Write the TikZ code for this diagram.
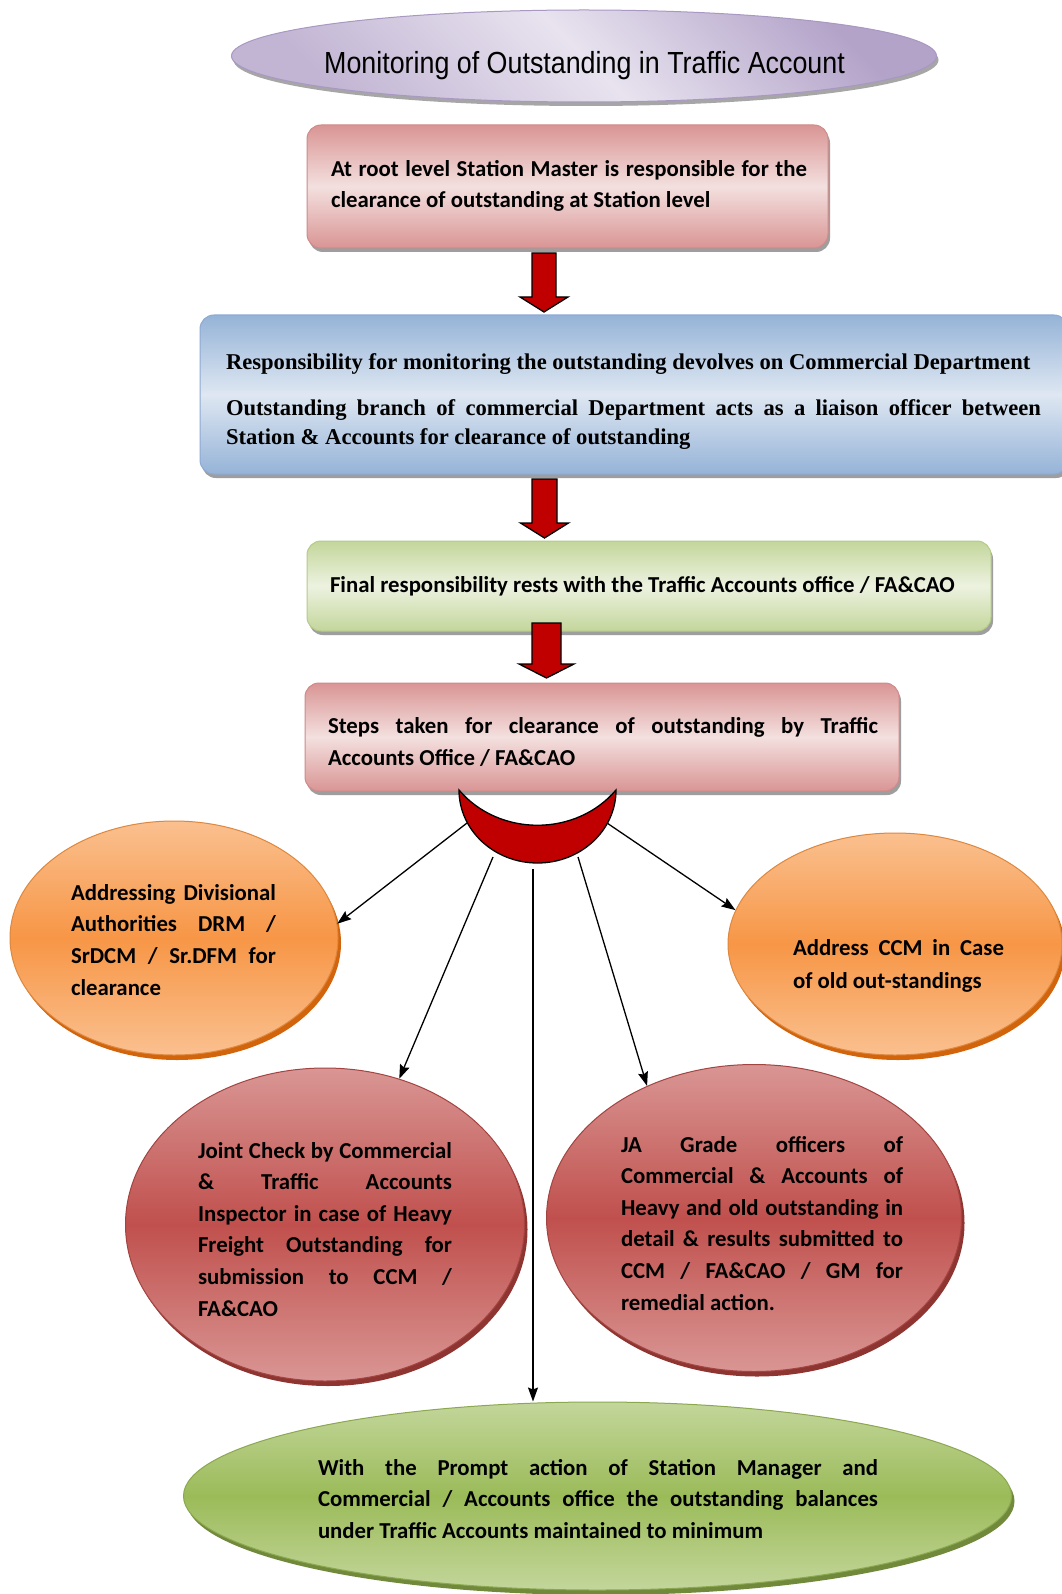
\documentclass[tikz,border=0pt]{standalone}
\usepackage{fontspec}
\setmainfont{Carlito}
\newfontfamily\titlefont[FakeStretch=0.88]{Liberation Sans}
\newfontfamily\timesfont{Liberation Serif}
\usetikzlibrary{shapes.geometric,shadows,arrows.meta}
\definecolor{arrred}{HTML}{C00000}
\definecolor{lavL}{HTML}{E8E3EF}
\definecolor{lavD}{HTML}{B3A3C9}
\definecolor{lavB}{HTML}{A898C2}
\definecolor{pinkL}{HTML}{F3E0DF}
\definecolor{pinkD}{HTML}{D99594}
\definecolor{pinkB}{HTML}{D08A89}
\definecolor{blueL}{HTML}{DEE7F2}
\definecolor{blueD}{HTML}{95B3D7}
\definecolor{blueB}{HTML}{8DAAD3}
\definecolor{grnL}{HTML}{EDF2E0}
\definecolor{grnD}{HTML}{C3D69B}
\definecolor{grnB}{HTML}{B5CB88}
\definecolor{orL}{HTML}{FAC08F}
\definecolor{orD}{HTML}{F79646}
\definecolor{orS}{HTML}{D2640C}
\definecolor{rdLc}{HTML}{D99694}
\definecolor{rdDc}{HTML}{C0504D}
\definecolor{rdS}{HTML}{8E3431}
\definecolor{gnL}{HTML}{C3D69B}
\definecolor{gnD}{HTML}{9BBB59}
\definecolor{gnS}{HTML}{71893A}
\newcommand{\jline}[1]{\makebox[\linewidth][s]{#1}\par}
\newcommand{\nline}[1]{\makebox[\linewidth][l]{#1}\par}
\newcommand{\bodyfont}[1]{\fontsize{22.8}{#1}\selectfont\bfseries}
\begin{document}
\begin{tikzpicture}[x=1pt,y=-1pt,
  boxshadow/.style={drop shadow={shadow xshift=2pt,shadow yshift=-4pt,fill=black!38,opacity=1}},
  rbox/.style={shape=rectangle,rounded corners=14pt,line width=1pt,inner sep=0pt,boxshadow,shading angle=-45},
  oval/.style={shape=ellipse,inner sep=0pt,line width=1pt},
  txt/.style={anchor=base west,inner sep=0pt,outer sep=0pt,text=black},
  conn/.style={draw=black,line width=1.3pt,-{Stealth[length=14pt,width=10pt,inset=2pt]}},
  redarr/.style={fill=arrred,draw=black,line width=1.3pt,line join=miter}]
\useasboundingbox (0,0) rectangle (1061,1594);
\fill[white] (0,0) rectangle (1061,1594);

% title
\node[oval,minimum width=705pt,minimum height=92pt,draw=lavB,
  top color=lavD,bottom color=lavD!80!white,middle color=lavL,shading angle=-45,
  drop shadow={shadow xshift=2pt,shadow yshift=-4pt,fill=black!35,opacity=1}]
  (title) at (584,56) {};
\node[anchor=base,inner sep=0pt] (ttitle) at (584.5,74)
  {\titlefont\fontsize{30.5}{36}\selectfont Monitoring of Outstanding in Traffic Account};

% box 1
\node[rbox,minimum width=521pt,minimum height=123pt,draw=pinkB,
  top color=pinkD,bottom color=pinkD,middle color=pinkL] (b1) at (567.5,186.5) {};
\node[txt] (tb1) at (331,177) {\parbox[t]{476pt}{\bodyfont{31}%
  \jline{At root level Station Master is responsible for the}%
  \nline{clearance of outstanding at Station level}}};

% box 2
\node[rbox,minimum width=868pt,minimum height=159pt,draw=blueB,
  top color=blueD,bottom color=blueD,middle color=blueL] (b2) at (634,394.5) {};
\node[txt] (tb2) at (226,369) {\parbox[t]{815pt}{\timesfont\bfseries\fontsize{22.6}{29}\selectfont
  \nline{Responsibility for monitoring the outstanding devolves on Commercial Department}%
  \vspace{17pt}%
  \jline{Outstanding branch of commercial Department acts as a liaison officer between}%
  \nline{Station \& Accounts for clearance of outstanding}}};

% box 3
\node[rbox,minimum width=684pt,minimum height=90pt,draw=grnB,
  top color=grnD,bottom color=grnD,middle color=grnL] (b3) at (649,586) {};
\node[txt] (tb3) at (330,592) {\bodyfont{31}Final responsibility rests with the Traffic Accounts office / FA\&CAO};

% box 4
\node[rbox,minimum width=594pt,minimum height=108pt,draw=pinkB,
  top color=pinkD,bottom color=pinkD,middle color=pinkL] (b4) at (602,737) {};
\node[txt] (tb4) at (328,733) {\parbox[t]{550pt}{\bodyfont{32}%
  \jline{Steps taken for clearance of outstanding by Traffic}%
  \nline{Accounts Office / FA\&CAO}}};

% block arrows
\coordinate (a1) at (544,253);
\coordinate (a2) at (544.5,479);
\coordinate (a3) at (546.5,623);
\draw[redarr] (a1) ++(-12,0) -- ++(0,44) -- ++(-12,0) -- ++(24,15) -- ++(24,-15) -- ++(-12,0) -- ++(0,-44) -- cycle;
\draw[redarr] (a2) ++(-12.5,0) -- ++(0,44) -- ++(-11.5,0) -- ++(24,15) -- ++(24,-15) -- ++(-11.5,0) -- ++(0,-44) -- cycle;
\draw[redarr] (a3) ++(-14.5,0) -- ++(0,41) -- ++(-13,0) -- ++(27.5,14) -- ++(27.5,-14) -- ++(-13,0) -- ++(0,-41) -- cycle;

% crescent
\coordinate (mL) at (459,790);
\coordinate (mR) at (616,790);
\draw[fill=arrred,draw=black,line width=1.3pt]
  (mL) .. controls (459,830.3) and (494.2,863) .. (537.5,863)
       .. controls (580.8,863) and (616,830.3) .. (mR)
       .. controls (576,837) and (499,837) .. (mL) -- cycle;
\coordinate (cL) at (467,823);
\coordinate (cR) at (607,823);
\coordinate (cLM) at (493,857);
\coordinate (cM) at (533,869);
\coordinate (cRM) at (578,857);

% orange ellipses
\node[oval,minimum width=328pt,minimum height=234pt,draw=orD!90!black,
  top color=orL,bottom color=orL,middle color=orD,
  drop shadow={shadow xshift=3pt,shadow yshift=-5pt,fill=orS,opacity=1}] (orL) at (174,938) {};
\node[txt] (torL) at (71,900) {\parbox[t]{205pt}{\bodyfont{31.8}%
  \jline{Addressing Divisional}%
  \jline{Authorities DRM /}%
  \jline{SrDCM / Sr.DFM for}%
  \nline{clearance}}};

\node[oval,minimum width=334pt,minimum height=222pt,draw=orD!90!black,
  top color=orL,bottom color=orL,middle color=orD,
  drop shadow={shadow xshift=3pt,shadow yshift=-5pt,fill=orS,opacity=1}] (orR) at (895,944) {};
\node[txt] (torR) at (793,955) {\parbox[t]{211pt}{\bodyfont{33}%
  \jline{Address CCM in Case}%
  \nline{of old out-standings}}};

% red ellipses
\node[oval,minimum width=399pt,minimum height=313pt,draw=rdDc!85!black,
  top color=rdLc,bottom color=rdLc,middle color=rdDc,
  drop shadow={shadow xshift=3pt,shadow yshift=-5pt,fill=rdS,opacity=1}] (rdL) at (325,1224.5) {};
\node[txt] (trdL) at (198,1158) {\parbox[t]{254pt}{\bodyfont{31.6}%
  \jline{Joint Check by Commercial}%
  \jline{\& Traffic Accounts}%
  \jline{Inspector in case of Heavy}%
  \jline{Freight Outstanding for}%
  \jline{submission to CCM /}%
  \nline{FA\&CAO}}};

\node[oval,minimum width=415pt,minimum height=307pt,draw=rdDc!85!black,
  top color=rdLc,bottom color=rdLc,middle color=rdDc,
  drop shadow={shadow xshift=3pt,shadow yshift=-5pt,fill=rdS,opacity=1}] (rdR) at (754,1218) {};
\node[txt] (trdR) at (621,1152) {\parbox[t]{282pt}{\bodyfont{31.6}%
  \jline{JA Grade officers of}%
  \jline{Commercial \& Accounts of}%
  \jline{Heavy and old outstanding in}%
  \jline{detail \& results submitted to}%
  \jline{CCM / FA\&CAO / GM for}%
  \nline{remedial action.}}};

% green ellipse
\node[oval,minimum width=828pt,minimum height=188pt,draw=gnD!90!black,
  top color=gnL,bottom color=gnL,middle color=gnD,
  drop shadow={shadow xshift=3pt,shadow yshift=-5pt,fill=gnS,opacity=1}] (gr) at (597.5,1496) {};
\node[txt] (tgr) at (318,1475) {\parbox[t]{560pt}{\bodyfont{31.5}%
  \jline{With the Prompt action of Station Manager and}%
  \jline{Commercial / Accounts office the outstanding balances}%
  \nline{under Traffic Accounts maintained to minimum}}};

% connectors
\draw[conn] (cL) -- (orL.5);
\draw[conn] (cR) -- (orR.168);
\draw[conn] (cLM) -- (rdL.63);
\draw[conn] (cRM) -- (rdR.129);
\draw[conn] (cM) -- (cM |- gr.north);
\end{tikzpicture}
\end{document}
